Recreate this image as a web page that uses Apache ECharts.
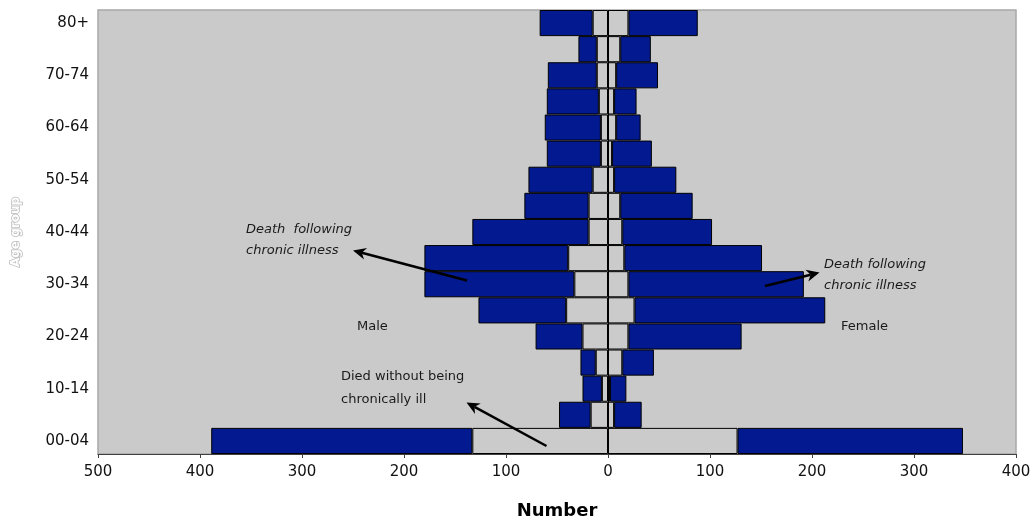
<!DOCTYPE html>
<html>
<head>
<meta charset="utf-8">
<title>Deaths by age group and sex</title>
<script src="https://cdn.jsdelivr.net/npm/echarts@6/dist/echarts.min.js"></script>
<style>
  html, body { margin: 0; padding: 0; background: #ffffff; }
  #chart { width: 1035px; height: 521px; }
</style>
</head>
<body>
<div id="chart"></div>
<script>
// Age groups, youngest first (drawn bottom to top)
const ageGroups = ['00-04', '05-09', '10-14', '15-19', '20-24', '25-29', '30-34', '35-39',
  '40-44', '45-49', '50-54', '55-59', '60-64', '65-69', '70-74', '75-79', '80+'];

// Number of deaths per age group
const maleNotChronic   = [133, 17, 6, 12, 25, 41, 33, 39, 19, 19, 15, 7, 7, 9, 11, 11, 15];
const maleChronic      = [256, 31, 19, 15, 46, 86, 147, 141, 114, 63, 63, 53, 55, 51, 48, 18, 52];
const femaleNotChronic = [127, 6, 2, 14, 20, 26, 20, 16, 14, 12, 6, 4, 8, 6, 8, 12, 20];
const femaleChronic    = [221, 27, 16, 31, 111, 187, 172, 135, 88, 71, 61, 39, 24, 22, 41, 30, 68];

// Number axis (males to the left of zero)
const axisMin = -500, axisMax = 400, axisStep = 100;

const NAVY = '#03198f';
const GREY = '#cbcbcb';
const FONT = 'DejaVu Sans';

const chart = echarts.init(document.getElementById('chart'), null, { renderer: 'canvas' });

function barSeries(name, values, color, sign) {
  return {
    name: name,
    type: 'bar',
    stack: 'deaths',
    barCategoryGap: '0%',
    barGap: '0%',
    data: values.map(v => sign * v),
    itemStyle: { color: color, borderColor: '#000000', borderWidth: 1 },
    emphasis: { disabled: true }
  };
}

// Arrow drawn as a shaft plus a filled head at (x2, y2)
function arrow(x1, y1, x2, y2) {
  const dx = x2 - x1, dy = y2 - y1;
  const len = Math.sqrt(dx * dx + dy * dy);
  const ux = dx / len, uy = dy / len;
  const px = -uy, py = ux;
  const headLen = 13, headHalf = 6;
  const bx = x2 - ux * headLen, by = y2 - uy * headLen;
  const nx = x2 - ux * headLen * 0.7, ny = y2 - uy * headLen * 0.7;
  return [
    {
      type: 'line', silent: true, z: 100,
      shape: { x1: x1, y1: y1, x2: nx, y2: ny },
      style: { stroke: '#000000', lineWidth: 2.5 }
    },
    {
      type: 'polygon', silent: true, z: 101,
      shape: { points: [[x2, y2], [bx + px * headHalf, by + py * headHalf], [nx, ny], [bx - px * headHalf, by - py * headHalf]] },
      style: { fill: '#000000' }
    }
  ];
}

function label(text, x, y, italic) {
  return {
    type: 'text', silent: true, z: 100,
    style: {
      text: text, x: x, y: y,
      fontFamily: FONT, fontSize: 13, fontStyle: italic ? 'italic' : 'normal',
      fill: '#1a1a1a', textVerticalAlign: 'middle', textAlign: 'left'
    }
  };
}

const option = {
  animation: false,
  backgroundColor: '#ffffff',
  grid: {
    left: 98, right: 19, top: 10, bottom: 67,
    containLabel: false,
    outerBoundsMode: 'none',
    show: true, backgroundColor: '#cacaca', borderColor: '#a8a8a8', borderWidth: 1.5
  },
  xAxis: {
    type: 'value',
    min: axisMin, max: axisMax, interval: axisStep,
    name: 'Number',
    nameLocation: 'middle',
    nameGap: 48,
    nameTextStyle: { fontFamily: FONT, fontSize: 18, fontWeight: 'bold', color: '#000000' },
    axisLine: { show: true, onZero: false, lineStyle: { color: '#404040', width: 1 } },
    axisTick: { show: true, length: 4, lineStyle: { color: '#404040' } },
    axisLabel: {
      fontFamily: FONT, fontSize: 15, color: '#111111', margin: 11,
      formatter: v => String(Math.abs(v))
    },
    splitLine: { show: false }
  },
  yAxis: {
    type: 'category',
    data: ageGroups,
    name: 'Age group',
    nameLocation: 'middle',
    nameRotate: 90,
    nameGap: 76,
    nameTextStyle: {
      fontFamily: FONT, fontSize: 12, fontWeight: 'bold', color: '#ffffff',
      textBorderColor: '#b9b9b9', textBorderWidth: 1.5
    },
    axisLine: { show: false },
    axisTick: { show: false },
    axisLabel: { interval: 1, fontFamily: FONT, fontSize: 15, color: '#111111', margin: 9 },
    splitLine: { show: false }
  },
  series: [
    barSeries('Male, died without being chronically ill', maleNotChronic, GREY, -1),
    barSeries('Male, death following chronic illness', maleChronic, NAVY, -1),
    barSeries('Female, died without being chronically ill', femaleNotChronic, GREY, 1),
    Object.assign(barSeries('Female, death following chronic illness', femaleChronic, NAVY, 1), {
      markLine: {
        silent: true, symbol: ['none', 'none'], label: { show: false },
        lineStyle: { color: '#000000', width: 1, type: 'solid' },
        data: [{ xAxis: 0 }]
      }
    })
  ],
  graphic: [
    label('Death  following', 246, 229.5, true),
    label('chronic illness', 246, 251, true),
    label('Death following', 824, 264.5, true),
    label('chronic illness', 824, 286, true),
    label('Male', 357, 326.5, false),
    label('Female', 841, 326.5, false),
    label('Died without being', 341, 377, false),
    label('chronically ill', 341, 399.5, false)
  ].concat(arrow(467, 280.5, 353, 250.5))
   .concat(arrow(546.5, 446, 466.5, 402.5))
   .concat(arrow(765, 286, 819.5, 272.5))
};

chart.setOption(option);
</script>
</body>
</html>
